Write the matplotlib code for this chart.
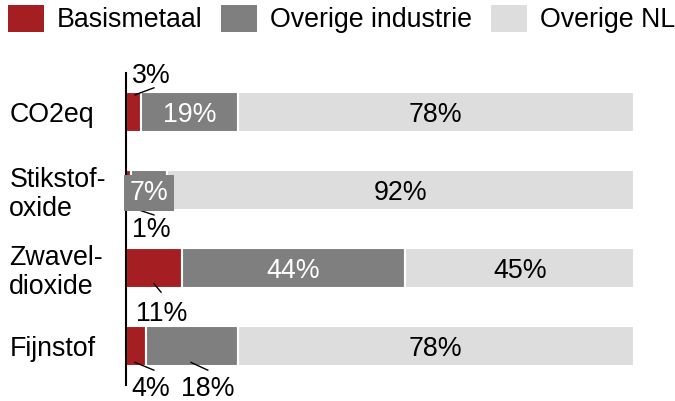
import matplotlib
matplotlib.use("Agg")
import matplotlib.pyplot as plt
from matplotlib.patches import Patch
import numpy as np

plt.rcParams['font.family'] = ['Liberation Sans', 'DejaVu Sans']

categories = ["CO2eq", "Stikstof-\noxide", "Zwavel-\ndioxide", "Fijnstof"]
series_names = ["Basismetaal", "Overige industrie", "Overige NL"]
basismetaal = [3, 1, 11, 4]
overige_industrie = [19, 7, 44, 18]
overige_nl = [78, 92, 45, 78]

colors = ["#A41E22", "#7F7F7F", "#DDDDDD"]
FS = 19.3

fig = plt.figure(figsize=(6.75, 4.01), dpi=100)
ax = fig.add_axes([126/675, 1-385/401, 508/675, 312/401])

data = np.array([basismetaal, overige_industrie, overige_nl], dtype=float)
y = np.arange(len(categories))
left = np.zeros(len(categories))
for k in range(3):
    ax.barh(y, data[k], left=left, height=0.525, color=colors[k],
            edgecolor="white", linewidth=1.5, label=series_names[k])
    left += data[k]

ax.set_xlim(0, 100)
ax.set_ylim(3.5, -0.5)
for s in ["top", "right", "bottom"]:
    ax.spines[s].set_visible(False)
ax.spines["left"].set_linewidth(1.5)
ax.set_xticks([])
ax.set_yticks(y)
ax.set_yticklabels(categories, fontsize=FS, ha="left", linespacing=1.15)
ax.tick_params(axis="y", length=0, pad=84)

starts = np.vstack([np.zeros(len(categories)), np.cumsum(data, axis=0)[:-1]])
centers = starts + data / 2

# inside labels: (category, segment, text color, boxed)
inside = [(0, 1, "white", False), (0, 2, "black", False),
          (1, 1, "white", True), (1, 2, "black", False),
          (2, 1, "white", False), (2, 2, "black", False),
          (3, 2, "black", False)]
for c, s, col, boxed in inside:
    kw = {}
    if boxed:
        kw["bbox"] = dict(boxstyle="square,pad=0.2", fc=colors[1], ec="none")
    ax.text(centers[s, c], y[c], f"{int(data[s, c])}%", ha="center",
            va="center_baseline", color=col, fontsize=FS, **kw)

# outside labels: (category, segment, text dx, text dy, line start (dx,dy), line end (dx,dy))
outside = [(0, 0, 3.4, -0.505, (0.27, -0.22), (4.0, -0.31)),
           (1, 0, 4.4, 0.47, (-0.1, 0.21), (5.0, 0.32)),
           (2, 0, 1.6, 0.545, (0.0, 0.20), (1.4, 0.31)),
           (3, 0, 2.9, 0.51, (-0.23, 0.21), (3.5, 0.31)),
           (3, 1, 3.1, 0.51, (-0.2, 0.21), (3.1, 0.31))]
for c, s, tdx, tdy, p0, p1 in outside:
    cx = centers[s, c]
    ax.plot([cx + p0[0], cx + p1[0]], [y[c] + p0[1], y[c] + p1[1]],
            color="black", lw=1, clip_on=False)
    ax.text(cx + tdx, y[c] + tdy, f"{int(data[s, c])}%", ha="center",
            va="center_baseline", color="black", fontsize=FS, clip_on=False)

handles = [Patch(facecolor=colors[k], edgecolor="none") for k in range(3)]
fig.legend(handles, series_names, loc="upper left",
           bbox_to_anchor=(8/675, 1-5/401), ncol=3, frameon=False,
           fontsize=FS, handlelength=1.33, handleheight=1.15,
           handletextpad=0.48, columnspacing=0.72, borderpad=0,
           borderaxespad=0)

fig.savefig("out.png", dpi=100)
